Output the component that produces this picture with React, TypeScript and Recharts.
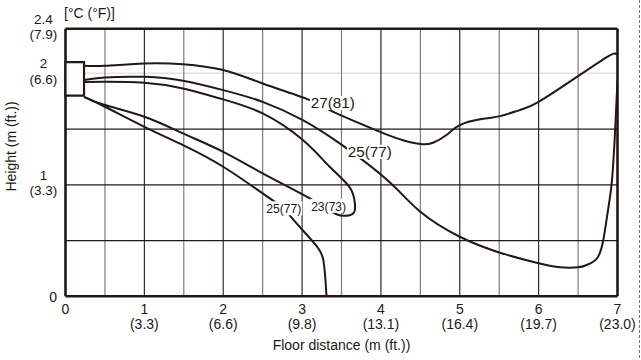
import React from 'react';
import { LineChart, Line, XAxis, YAxis, ReferenceLine, ReferenceArea, ReferenceDot } from 'recharts';

const xTicks = [0, 1, 2, 3, 4, 5, 6, 7];
const xTicksFt = ['', '(3.3)', '(6.6)', '(9.8)', '(13.1)', '(16.4)', '(19.7)', '(23.0)'];
const yTicks = [0, 1, 2, 2.4];
const yTicksFt = ['', '(3.3)', '(6.6)', '(7.9)'];
const gridXHalf = [0.5, 1.5, 2.5, 3.5, 4.5, 5.5, 6.5];
const gridXWhole = [1, 2, 3, 4, 5, 6];
const gridY = [0.5, 1, 1.5];
const gridYLight = [2];

const indoorUnit = { x1: 0, x2: 0.235, y1: 1.8, y2: 2.1 };

const curve27 = [
  { x: 0.235, y: 2.067 }, { x: 0.5, y: 2.067 }, { x: 1.0, y: 2.089 }, { x: 1.49, y: 2.082 },
  { x: 2.0, y: 2.029 }, { x: 2.5, y: 1.909 }, { x: 3.1, y: 1.76 }, { x: 3.35, y: 1.67 },
  { x: 3.99, y: 1.475 }, { x: 4.28, y: 1.4 }, { x: 4.5, y: 1.365 }, { x: 4.66, y: 1.377 },
  { x: 4.83, y: 1.446 }, { x: 5.0, y: 1.535 }, { x: 5.26, y: 1.587 }, { x: 5.51, y: 1.616 },
  { x: 5.76, y: 1.67 }, { x: 6.0, y: 1.744 }, { x: 6.5, y: 1.975 }, { x: 6.87, y: 2.148 },
  { x: 6.97, y: 2.178 }, { x: 7.0, y: 2.163 },
];

const curve25Upper = [
  { x: 0.235, y: 1.939 }, { x: 0.5, y: 1.963 }, { x: 1.0, y: 1.968 }, { x: 1.49, y: 1.933 },
  { x: 2.0, y: 1.849 }, { x: 2.5, y: 1.744 }, { x: 3.01, y: 1.58 }, { x: 3.5, y: 1.36 },
  { x: 4.08, y: 1.042 }, { x: 4.5, y: 0.758 }, { x: 5.0, y: 0.534 }, { x: 5.51, y: 0.391 },
  { x: 6.0, y: 0.296 }, { x: 6.27, y: 0.26 }, { x: 6.5, y: 0.26 }, { x: 6.61, y: 0.281 },
  { x: 6.74, y: 0.341 }, { x: 6.82, y: 0.505 }, { x: 6.88, y: 0.774 }, { x: 6.93, y: 1.042 },
  { x: 6.97, y: 1.49 }, { x: 7.0, y: 1.94 },
];

const curve23 = [
  { x: 0.235, y: 1.921 }, { x: 0.5, y: 1.924 }, { x: 1.0, y: 1.915 }, { x: 1.49, y: 1.864 },
  { x: 2.0, y: 1.766 }, { x: 2.5, y: 1.64 }, { x: 3.01, y: 1.401 }, { x: 3.35, y: 1.162 },
  { x: 3.6, y: 0.982 }, { x: 3.67, y: 0.834 }, { x: 3.65, y: 0.744 }, { x: 3.52, y: 0.722 },
  { x: 3.38, y: 0.758 }, { x: 3.1, y: 0.878 }, { x: 2.5, y: 1.103 }, { x: 2.0, y: 1.296 },
  { x: 1.49, y: 1.461 }, { x: 1.0, y: 1.61 }, { x: 0.5, y: 1.715 }, { x: 0.235, y: 1.789 },
];

const curve25Lower = [
  { x: 0.235, y: 1.789 }, { x: 0.5, y: 1.7 }, { x: 1.0, y: 1.52 }, { x: 1.49, y: 1.356 },
  { x: 2.0, y: 1.162 }, { x: 2.5, y: 0.923 }, { x: 2.76, y: 0.79 }, { x: 2.93, y: 0.654 },
  { x: 3.19, y: 0.445 }, { x: 3.27, y: 0.325 }, { x: 3.29, y: 0.206 }, { x: 3.31, y: 0 },
];

const curveLabelText = ['27(81)', '25(77)', '23(73)', '25(77)'];
const curveLabelX = [3.39, 3.86, 3.337, 2.768];
const curveLabelY = [1.733, 1.296, 0.811, 0.789];
const curveLabelLarge = [true, true, false, false];

const INK = '#231815';
const FONT = '"Liberation Sans", Arial, Helvetica, sans-serif';

const renderXTick = (props: any) => {
  const { x, y, payload } = props;
  const ft = xTicksFt[xTicks.indexOf(payload.value)] || '';
  return (
    <g>
      <text x={x} y={y + 17.5} textAnchor="middle" fontSize={14} fill={INK} fontFamily={FONT}>
        {String(payload.value)}
      </text>
      {ft ? (
        <text x={x} y={y + 32.5} textAnchor="middle" fontSize={14} fill={INK} fontFamily={FONT}>
          {ft}
        </text>
      ) : null}
    </g>
  );
};

const renderYTick = (props: any) => {
  const { x, y, payload } = props;
  const ft = yTicksFt[yTicks.indexOf(payload.value)] || '';
  if (!ft) {
    return (
      <text x={x - 8.5} y={y + 6} textAnchor="end" fontSize={14} fill={INK} fontFamily={FONT}>
        {String(payload.value)}
      </text>
    );
  }
  return (
    <g>
      <text x={x - 22} y={y - 5} textAnchor="middle" fontSize={13.5} fill={INK} fontFamily={FONT}>
        {String(payload.value)}
      </text>
      <text x={x - 22} y={y + 10.5} textAnchor="middle" fontSize={13.5} fill={INK} fontFamily={FONT}>
        {ft}
      </text>
    </g>
  );
};

const makeLabelShape = (text: string, large: boolean) => (p: any) => {
  const { cx, cy } = p;
  const fs = large ? 14.5 : 13;
  const w = large ? 44 : 35;
  return (
    <g>
      <rect x={cx - w / 2 - 1} y={cy - 7} width={w + 2} height={14} fill="#ffffff" />
      <text
        x={cx}
        y={cy + fs * 0.36}
        textAnchor="middle"
        fontSize={fs}
        fill={INK}
        fontFamily={FONT}
        textLength={w}
        lengthAdjust="spacingAndGlyphs"
      >
        {text}
      </text>
    </g>
  );
};

const series = [curve27, curve25Upper, curve23, curve25Lower];

export default function App() {
  return (
    <div style={{ position: 'absolute', left: 0, top: 0, width: 641, height: 360, background: '#fff' }}>
      <LineChart width={641} height={360} margin={{ top: 28.7, right: 23.5, bottom: 23.7, left: 15.5 }}>
        <XAxis
          type="number"
          dataKey="x"
          domain={[0, 7]}
          ticks={xTicks}
          axisLine={false}
          tickLine={false}
          tickSize={0}
          tickMargin={0}
          height={40}
          tick={renderXTick}
          interval={0}
          allowDataOverflow
        />
        <YAxis
          type="number"
          dataKey="y"
          domain={[0, 2.4]}
          ticks={yTicks}
          axisLine={false}
          tickLine={false}
          tickSize={0}
          tickMargin={0}
          width={50}
          tick={renderYTick}
          interval={0}
          allowDataOverflow
        />
        {gridYLight.map((v) => (
          <ReferenceLine key={'gl' + v} y={v} stroke="#e2e2e2" strokeWidth={1.5} zIndex={-60} />
        ))}
        {gridXHalf.map((v) => (
          <ReferenceLine key={'gh' + v} x={v} stroke="#7d7d7d" strokeWidth={1.2} zIndex={-50} />
        ))}
        {gridXWhole.map((v) => (
          <ReferenceLine key={'gw' + v} x={v} stroke={INK} strokeWidth={1.1} zIndex={-50} />
        ))}
        {gridY.map((v) => (
          <ReferenceLine key={'gy' + v} y={v} stroke={INK} strokeWidth={1.3} zIndex={-50} />
        ))}
        {series.map((d, i) => (
          <Line
            key={'s' + i}
            data={d}
            dataKey="y"
            type="natural"
            stroke={INK}
            strokeWidth={2}
            dot={false}
            activeDot={false}
            isAnimationActive={false}
            zIndex={400}
          />
        ))}
        <ReferenceLine x={0} stroke={INK} strokeWidth={2.6} zIndex={700} />
        <ReferenceLine x={7} stroke={INK} strokeWidth={2.6} zIndex={700} />
        <ReferenceLine y={0} stroke={INK} strokeWidth={2.6} zIndex={700} />
        <ReferenceLine y={2.4} stroke={INK} strokeWidth={2.6} zIndex={700} />
        <ReferenceArea
          x1={indoorUnit.x1}
          x2={indoorUnit.x2}
          y1={indoorUnit.y1}
          y2={indoorUnit.y2}
          fill="#ffffff"
          fillOpacity={1}
          stroke={INK}
          strokeWidth={2.2}
          zIndex={800}
        />
        {curveLabelText.map((t, i) => (
          <ReferenceDot
            key={'lab' + i}
            x={curveLabelX[i]}
            y={curveLabelY[i]}
            r={0}
            zIndex={900}
            shape={makeLabelShape(t, curveLabelLarge[i])}
          />
        ))}
      </LineChart>
      <svg
        width={641}
        height={360}
        style={{ position: 'absolute', left: 0, top: 0, pointerEvents: 'none' }}
      >
        <text x={64} y={17.5} fontSize={14} fill={INK} fontFamily={FONT}>[°C (°F)]</text>
        <text x={341.5} y={350} textAnchor="middle" fontSize={14} fill={INK} fontFamily={FONT}>
          Floor distance (m (ft.))
        </text>
        <text
          transform="translate(15.5,146.5) rotate(-90)"
          textAnchor="middle"
          fontSize={14}
          fill={INK}
          fontFamily={FONT}
        >
          Height (m (ft.))
        </text>
        <line x1={639.5} y1={0} x2={639.5} y2={360} stroke="#777" strokeWidth={1} strokeDasharray="3 2" />
      </svg>
    </div>
  );
}
